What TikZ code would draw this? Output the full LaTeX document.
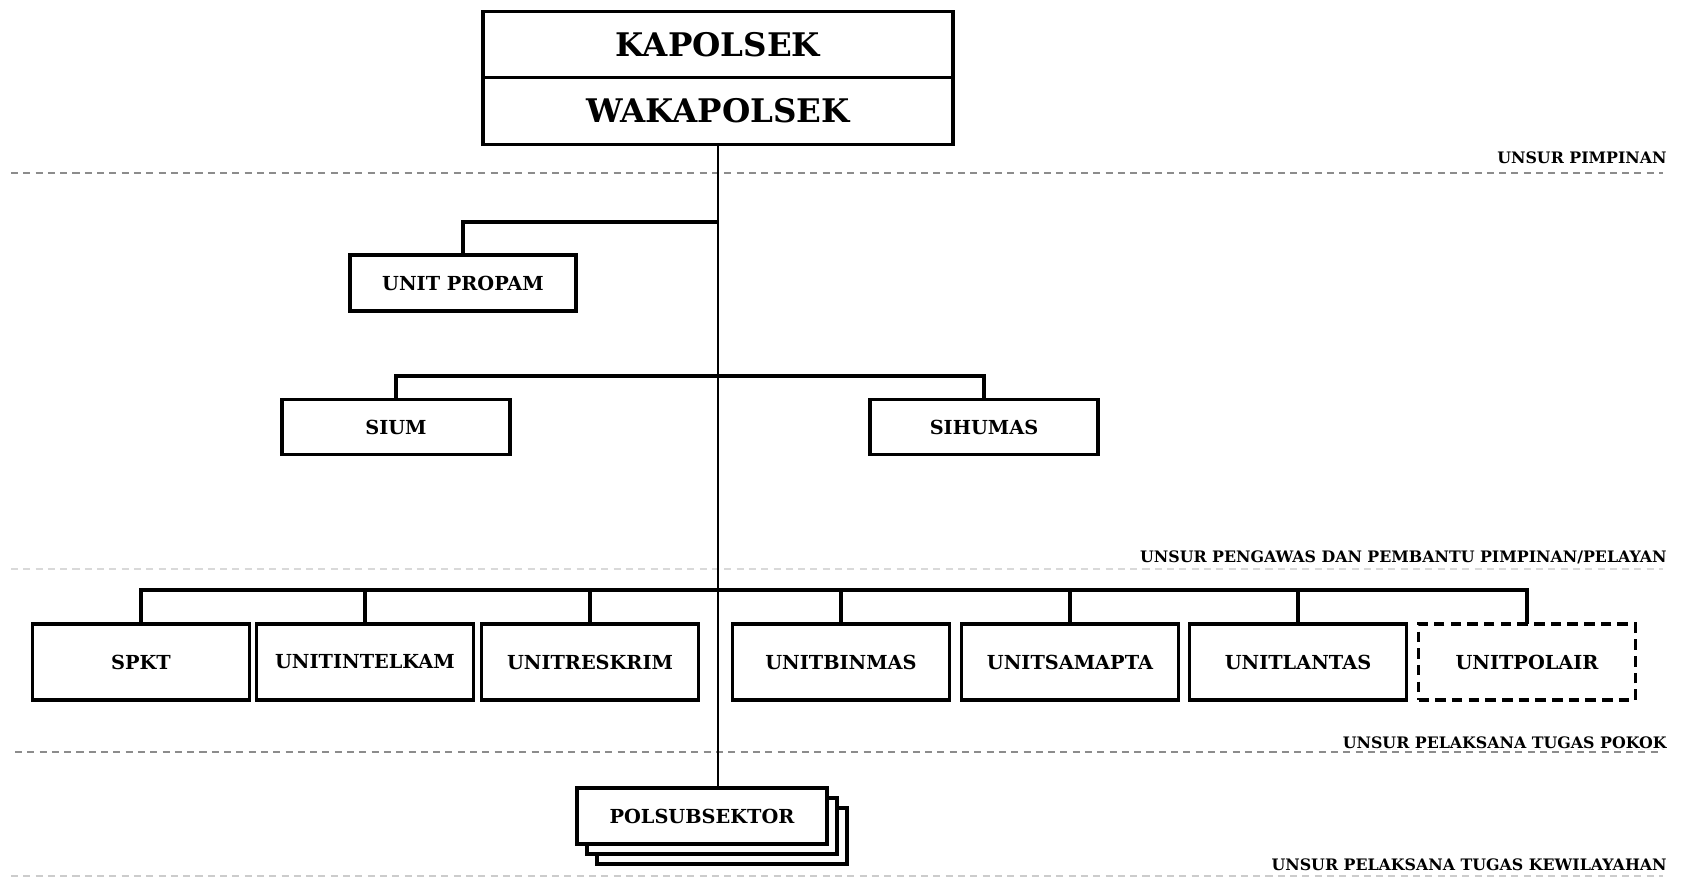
\documentclass[tikz,border=0pt]{standalone}
\usepackage{fontspec}
\setmainfont{DejaVu Serif}
\usetikzlibrary{positioning, shadows}

\begin{document}
\begin{tikzpicture}[x=0.02cm, y=-0.02cm,
  box/.style={draw, line width=1.8pt, fill=white, outer sep=0pt, inner sep=2pt,
              font=\bfseries\fontsize{11}{13}\selectfont, minimum height=1.12cm},
  unit/.style={box, minimum width=4.34cm, minimum height=1.52cm},
  head/.style={box, minimum width=9.4cm, minimum height=1.33cm,
               font=\bfseries\fontsize{18.5}{22}\selectfont},
  link/.style={line width=2pt},
  trunk/.style={line width=1.3pt},
  divider/.style={dash pattern=on 4pt off 3pt, line width=0.7pt, black!45},
  lbl/.style={font=\bfseries\fontsize{9}{11}\selectfont, anchor=east, inner sep=0pt}]
\useasboundingbox (0,0) rectangle (1689,882);

% section dividers and their labels
\draw[divider] (11,173) -- (1663,173);
\draw[divider, black!15] (11,569) -- (1663,569);
\draw[divider] (15,752) -- (1663,752);
\draw[divider, black!20] (11,876) -- (1663,876);
\node[lbl] (lblpimpinan) at (1667,158) {UNSUR PIMPINAN};
\node[lbl] (lblpengawas) at (1667,557) {UNSUR PENGAWAS DAN PEMBANTU PIMPINAN/PELAYAN};
\node[lbl] (lblpokok) at (1667,743) {UNSUR PELAKSANA TUGAS POKOK};
\node[lbl] (lblwilayah) at (1667,865) {UNSUR PELAKSANA TUGAS KEWILAYAHAN};

% pimpinan
\node[head] (kapolsek) at (718,44.5) {KAPOLSEK};
\node[head, below=0pt of kapolsek] (wakapolsek) {WAKAPOLSEK};

% pengawas / pembantu
\node[box, minimum width=4.52cm] (propam) at (463,283) {UNIT PROPAM};
\node[box, minimum width=4.56cm, minimum height=1.1cm] (sium) at (396,427) {SIUM};
\node[box, minimum width=4.56cm, minimum height=1.1cm] (sihumas) at (984,427) {SIHUMAS};

% pelaksana tugas pokok
\foreach \n/\x/\t in {spkt/141/SPKT, intelkam/365/UNITINTELKAM, reskrim/590/UNITRESKRIM,
                      binmas/841/UNITBINMAS, samapta/1070/UNITSAMAPTA, lantas/1298/UNITLANTAS}
  \node[unit] (\n) at (\x,662) {\t};
\node[unit, dashed, dash pattern=on 6pt off 3.5pt] (polair) at (1527,662) {UNITPOLAIR};

% kewilayahan
\node[box, minimum width=5cm, double copy shadow={shadow xshift=0.2cm, shadow yshift=-0.2cm}]
  (polsub) at (702,816) {POLSUBSEKTOR};

% connectors
\coordinate (propamjoin) at (718,222);
\coordinate (stafjoin) at (718,376);
\coordinate (rowjoin) at (718,590);
\draw[trunk] (wakapolsek.south) -- (wakapolsek.south |- polsub.north);
\draw[link] (propam.north) |- (propamjoin);
\draw[link] (sium.north) |- (stafjoin) -| (sihumas.north);
\draw[link] (spkt.north) |- (rowjoin) -| (polair.north);
\foreach \n in {intelkam, reskrim, binmas, samapta, lantas}
  \draw[link] (\n.north) -- (\n.north |- rowjoin);
\end{tikzpicture}
\end{document}
